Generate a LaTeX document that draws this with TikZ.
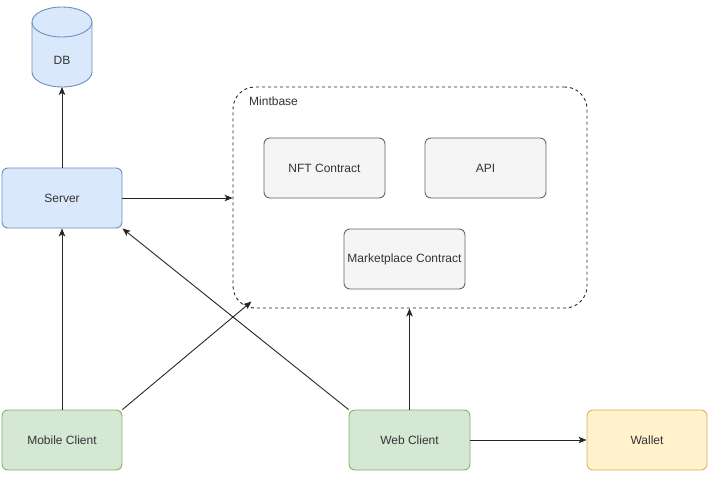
\documentclass[tikz,border=0pt]{standalone}
\usepackage{fontspec}
\setmainfont{Liberation Sans}
\usetikzlibrary{arrows.meta}
\definecolor{bluef}{HTML}{DAE8FC}\definecolor{blued}{HTML}{6C8EBF}
\definecolor{greyf}{HTML}{F5F5F5}\definecolor{greyd}{HTML}{666666}
\definecolor{greenf}{HTML}{D5E8D4}\definecolor{greend}{HTML}{82B366}
\definecolor{yellowf}{HTML}{FFF2CC}\definecolor{yellowd}{HTML}{D6B656}
\definecolor{txt}{HTML}{333333}
\begin{document}
\begin{tikzpicture}[x=1pt,y=-1pt,
  box/.style={rounded corners=6pt, minimum width=120pt, minimum height=60pt, inner sep=0pt, line width=0.9pt, font=\fontsize{12}{14}\selectfont, text=txt},
  bluebox/.style={box, fill=bluef, draw=blued},
  greybox/.style={box, fill=greyf, draw=greyd, minimum width=121pt},
  greenbox/.style={box, fill=greenf, draw=greend},
  yellowbox/.style={box, fill=yellowf, draw=yellowd},
  conn/.style={line width=0.9pt, draw=black!85, -{Stealth[length=8pt,width=6.5pt,inset=2pt]}}]
\useasboundingbox (0,0) rectangle (712,479);
% Mintbase container
\node[draw=black!85, dash pattern=on 3pt off 3pt, line width=0.9pt, rounded corners=22pt, minimum width=354pt, minimum height=221pt, inner sep=0pt] (mint) at (410,197.5) {};
\node[anchor=west, font=\fontsize{12}{14}\selectfont, text=txt, inner sep=0pt] (mintlabel) at (249,101.5) {Mintbase};
% DB cylinder
\fill[bluef] (32,22) -- (32,72) arc[start angle=180, end angle=0, x radius=30, y radius=15] -- (92,22) -- cycle;
\fill[bluef] (62,22) ellipse[x radius=30, y radius=15];
\draw[blued, line width=0.9pt] (32,22) -- (32,72) arc[start angle=180, end angle=0, x radius=30, y radius=15] -- (92,22);
\draw[blued, line width=0.9pt] (62,22) ellipse[x radius=30, y radius=15];
\node[font=\fontsize{12}{14}\selectfont, text=txt, inner sep=0pt] (db) at (62,60) {DB};
\coordinate (dbbottom) at (62,87);
% nodes
\node[bluebox] (server) at (62,198) {Server};
\node[greybox] (nft) at (324.5,168) {NFT Contract};
\node[greybox] (api) at (485.5,168) {API};
\node[greybox] (market) at (404.5,259) {Marketplace Contract};
\node[greenbox] (mobile) at (62,440) {Mobile Client};
\node[greenbox, minimum width=121pt] (web) at (409.5,440) {Web Client};
\node[yellowbox] (wallet) at (647,440) {Wallet};
\coordinate (mintcorner) at (251.5,301.5);
% connectors
\draw[conn] (server.north) -- (dbbottom);
\draw[conn] (server.east) -- (server.east -| mint.west);
\draw[conn] (mobile.north) -- (server.south);
\draw[conn] (mobile.north east) -- (mintcorner);
\draw[conn] (web.north west) -- (server.south east);
\draw[conn] (web.north) -- (web.north |- mint.south);
\draw[conn] (web.east) -- (wallet.west);
\end{tikzpicture}
\end{document}
